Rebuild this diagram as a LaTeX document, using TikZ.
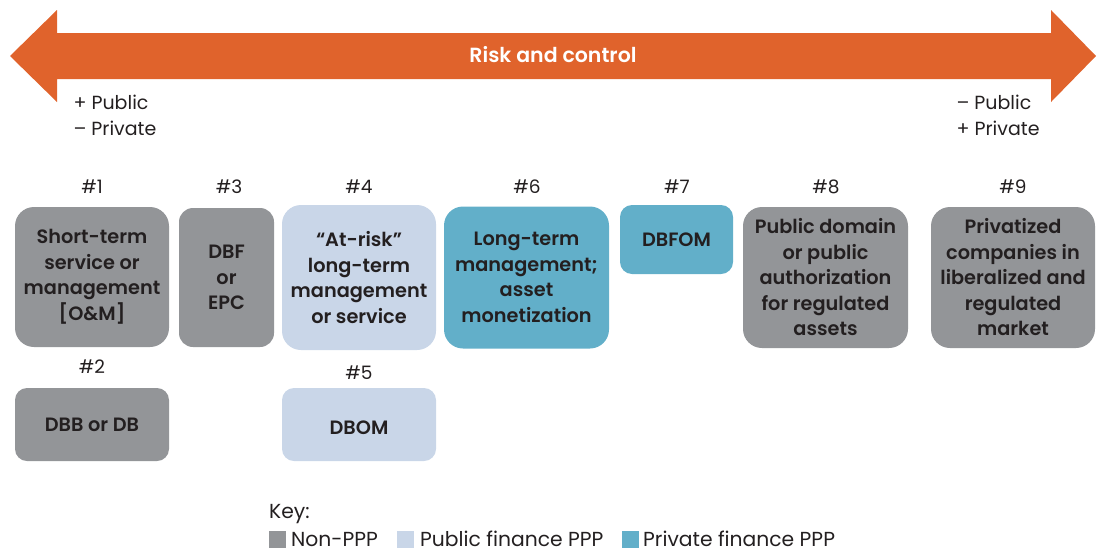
\documentclass[tikz,border=0pt]{standalone}
\usepackage{fontspec}
\setmainfont{Poppins}[BoldFont={Poppins SemiBold}]
\definecolor{orng}{HTML}{E0632C}
\definecolor{grayb}{HTML}{939598}
\definecolor{lblue}{HTML}{C9D6E8}
\definecolor{teal}{HTML}{62AFC9}
\definecolor{txt}{HTML}{231F20}
\tikzset{
  box/.style={rounded corners=19pt, inner sep=0pt, align=center, text=txt,
    font=\bfseries\fontsize{19.3}{25.5}\selectfont},
  num/.style={text=txt, font=\fontsize{18.5}{22}\selectfont},
  lab/.style={text=txt, font=\fontsize{19}{26}\selectfont, align=left, anchor=west},
  keytxt/.style={text=txt, font=\fontsize{20.3}{24}\selectfont, anchor=base west, inner sep=0pt},
  keysq/.style={minimum width=17pt, minimum height=17pt, inner sep=0pt}
}
\begin{document}
\begin{tikzpicture}[x=1pt,y=-1pt]
\useasboundingbox (0,0) rectangle (1097,552);
% arrow
\fill[orng] (10,56) -- (57,10) -- (57,33) -- (1051,33) -- (1051,10) -- (1096,56)
  -- (1051,102) -- (1051,79) -- (57,79) -- (57,102) -- cycle;
\node[text=white, font=\bfseries\fontsize{20.5}{22}\selectfont] (risk) at (553,55) {Risk and control};
\node[lab] (left) at (70,115) {+ Public\\– Private};
\node[lab] (right) at (953,115) {– Public\\+ Private};
% numbers
\node[num] (n1) at (92,187) {\#1};
\node[num] (n3) at (229,187) {\#3};
\node[num] (n4) at (359,187) {\#4};
\node[num] (n6) at (527,187) {\#6};
\node[num] (n7) at (677,187) {\#7};
\node[num] (n8) at (826,187) {\#8};
\node[num] (n9) at (1013,187) {\#9};
\node[num] (n2) at (92,367) {\#2};
\node[num] (n5) at (359,373) {\#5};
% boxes
\node[box, fill=grayb, minimum width=154pt, minimum height=140pt] (b1) at (92,277) {Short-term\\service or\\management\\{[O\&M]}};
\node[box, fill=grayb, minimum width=154pt, minimum height=73pt, rounded corners=12pt] (b2) at (92,424.5) {DBB or DB};
\node[box, fill=grayb, minimum width=95pt, minimum height=139pt, rounded corners=14pt] (b3) at (226.5,277.5) {DBF\\or\\EPC};
\node[box, fill=lblue, minimum width=154pt, minimum height=145pt] (b4) at (359,277.5) {“At-risk”\\long-term\\management\\or service};
\node[box, fill=lblue, minimum width=154pt, minimum height=73pt, rounded corners=12pt, text depth=0pt] (b5) at (359,424.5) {\raisebox{-6pt}{DBOM}};
\node[box, fill=teal, minimum width=165pt, minimum height=142pt] (b6) at (526.5,277.5) {Long-term\\management;\\asset\\monetization};
\node[box, fill=teal, minimum width=113pt, minimum height=69pt, rounded corners=12pt] (b7) at (676.5,239.5) {DBFOM};
\node[box, fill=grayb, minimum width=165pt, minimum height=141pt] (b8) at (825.5,277.5) {Public domain\\or public\\authorization\\for regulated\\assets};
\node[box, fill=grayb, minimum width=164pt, minimum height=141pt] (b9) at (1013,277.5) {Privatized\\companies in\\liberalized and\\regulated\\market};
% key
\node[keytxt] (key) at (269,518) {Key:};
\node[keysq, fill=grayb] (k1) at (277.5,539.5) {};
\node[keytxt] (t1) at (291,546) {Non-PPP};
\node[keysq, fill=lblue] (k2) at (405.5,539.5) {};
\node[keytxt] (t2) at (420,546) {Public finance PPP};
\node[keysq, fill=teal] (k3) at (630.5,539.5) {};
\node[keytxt] (t3) at (643,546) {Private finance PPP};
\end{tikzpicture}
\end{document}
